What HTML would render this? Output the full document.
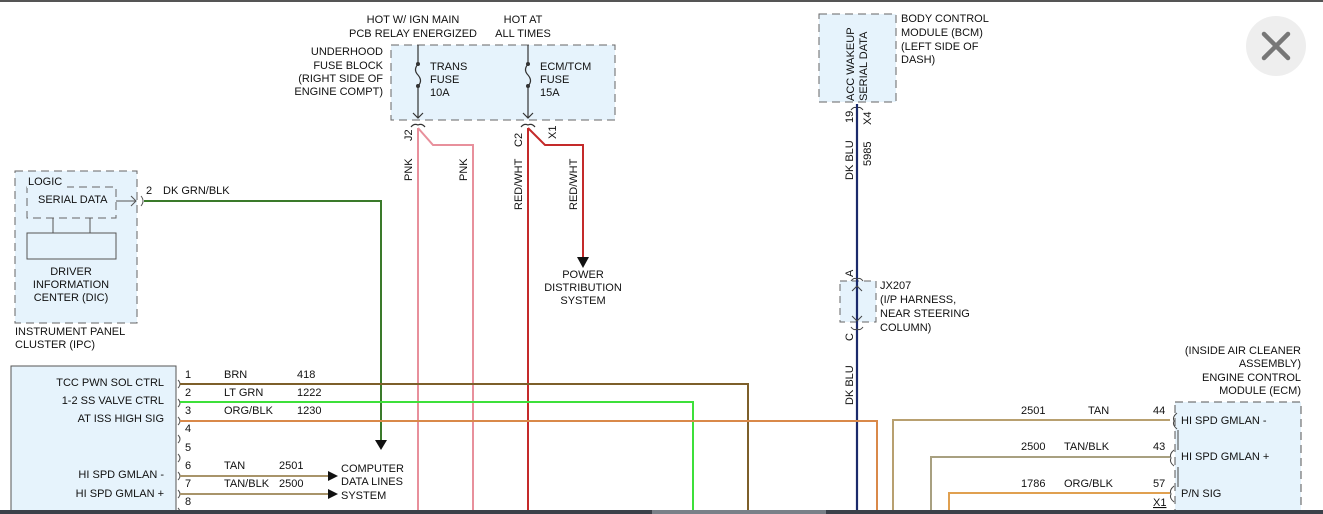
<!DOCTYPE html>
<html><head><meta charset="utf-8"><style>
html,body{margin:0;padding:0;background:#fff;width:1323px;height:514px;overflow:hidden}
svg{display:block;font-family:"Liberation Sans",Arial,sans-serif;font-size:11px}
</style></head><body>
<svg width="1323" height="514" viewBox="0 0 1323 514">
<rect x="0" y="0" width="1323" height="2" fill="#555"/>
<!-- fuse block -->
<rect x="391" y="45" width="224" height="75" fill="#e6f3fc" stroke="#666" stroke-dasharray="8,5"/>
<g fill="#111" text-anchor="middle">
<text x="413" y="23">HOT W/ IGN MAIN</text><text x="413" y="37">PCB RELAY ENERGIZED</text>
<text x="523" y="23">HOT AT</text><text x="523" y="37">ALL TIMES</text>
</g>
<g fill="#111" text-anchor="end">
<text x="383" y="55">UNDERHOOD</text><text x="383" y="69">FUSE BLOCK</text><text x="383" y="82">(RIGHT SIDE OF</text><text x="383" y="95">ENGINE COMPT)</text>
</g>
<g stroke="#333" fill="none" stroke-width="1.2">
<line x1="418" y1="45" x2="418" y2="64"/><path d="M418 64 q-5 6 0 11 q5 6 0 11"/><line x1="418" y1="86" x2="418" y2="118"/>
<line x1="528" y1="45" x2="528" y2="64"/><path d="M528 64 q-5 6 0 11 q5 6 0 11"/><line x1="528" y1="86" x2="528" y2="118"/>
<path d="M413 113 l5 5 l5 -5 M523 113 l5 5 l5 -5"/>
<path d="M411 127 q3 -4 7 -2 q4 -2 7 2 M521 127 q3 -4 7 -2 q4 -2 7 2"/>
</g>
<g fill="#333"><circle cx="418" cy="64" r="2"/><circle cx="418" cy="86" r="2"/><circle cx="528" cy="64" r="2"/><circle cx="528" cy="86" r="2"/></g>
<g fill="#111"><text x="430" y="70">TRANS</text><text x="430" y="83">FUSE</text><text x="430" y="96">10A</text>
<text x="540" y="70">ECM/TCM</text><text x="540" y="83">FUSE</text><text x="540" y="96">15A</text></g>
<!-- wires from fuse -->
<g fill="none" stroke-width="2">
<path d="M418 128 V514" stroke="#e8909c"/>
<path d="M418 128 L433 145 H473 V514" stroke="#e8909c"/>
<path d="M528 128 V514" stroke="#c42a2a"/>
<path d="M528 128 L545 145 H583 V258" stroke="#c42a2a"/>
</g>
<path d="M577 257 h12 l-6 11z" fill="#111"/>
<g fill="#111" text-anchor="middle"><text x="583" y="278">POWER</text><text x="583" y="291">DISTRIBUTION</text><text x="583" y="304">SYSTEM</text></g>
<g fill="#111">
<text transform="translate(412,141) rotate(-90)">J2</text>
<text transform="translate(412,181) rotate(-90)">PNK</text>
<text transform="translate(467,181) rotate(-90)">PNK</text>
<text transform="translate(522,147) rotate(-90)">C2</text>
<text transform="translate(522,210) rotate(-90)">RED/WHT</text>
<text transform="translate(556,139) rotate(-90)">X1</text>
<text transform="translate(577,210) rotate(-90)">RED/WHT</text>
</g>
<!-- BCM -->
<rect x="819" y="14" width="77" height="88" fill="#e6f3fc" stroke="#666" stroke-dasharray="8,5"/>
<g fill="#111"><text transform="translate(854,101) rotate(-90)">ACC WAKEUP</text><text transform="translate(867,101) rotate(-90)">SERIAL DATA</text>
<text x="901" y="22">BODY CONTROL</text><text x="901" y="36">MODULE (BCM)</text><text x="901" y="50">(LEFT SIDE OF</text><text x="901" y="63">DASH)</text>
<text transform="translate(853,123) rotate(-90)">19</text><text transform="translate(871,125) rotate(-90)">X4</text>
<text transform="translate(853,180) rotate(-90)">DK BLU</text><text transform="translate(871,166) rotate(-90)">5985</text>
<text transform="translate(853,277) rotate(-90)">A</text><text transform="translate(853,341) rotate(-90)">C</text>
<text transform="translate(853,405) rotate(-90)">DK BLU</text>
<text x="880" y="289">JX207</text><text x="880" y="303">(I/P HARNESS,</text><text x="880" y="317">NEAR STEERING</text><text x="880" y="331">COLUMN)</text>
</g>
<path d="M851 110 q3 -4 6 -2 q3 -2 6 2" stroke="#333" fill="none"/>
<rect x="840" y="281" width="36" height="41" fill="#e6f3fc" stroke="#666" stroke-dasharray="7,5"/>
<line x1="857" y1="104" x2="857" y2="514" stroke="#1b2a6b" stroke-width="2.2"/>
<path d="M851 281 q3 -4 6 -2 q3 -2 6 2 M851 327 q3 4 6 2 q3 2 6 -2 M852 291 l5 -5 l5 5 M852 316 l5 5 l5 -5" stroke="#444" fill="none"/>
<!-- close button -->
<circle cx="1276" cy="46" r="30" fill="#eeeeee"/>
<path d="M1264 34 L1288 58 M1288 34 L1264 58" stroke="#777" stroke-width="4.5" stroke-linecap="round"/>
<!-- IPC -->
<rect x="15" y="171" width="122" height="152" fill="#e6f3fc" stroke="#666" stroke-dasharray="8,5"/>
<rect x="27" y="187" width="89" height="31" fill="#e6f3fc" stroke="#666" stroke-dasharray="8,5"/>
<rect x="27" y="233" width="89" height="26" fill="#e6f3fc" stroke="#555"/>
<path d="M53 218 V233 M90 218 V233" stroke="#555"/>
<path d="M116 201 H136 M131 196 l5 5 l-5 5 M141 196 q4 5 0 10" stroke="#555" fill="none"/>
<rect x="27" y="186" width="40" height="2" fill="#e6f3fc"/>
<g fill="#111"><text x="28" y="185">LOGIC</text><text x="38" y="203">SERIAL DATA</text>
<text x="71" y="275" text-anchor="middle">DRIVER</text><text x="71" y="288" text-anchor="middle">INFORMATION</text><text x="71" y="301" text-anchor="middle">CENTER (DIC)</text>
<text x="15" y="335">INSTRUMENT PANEL</text><text x="15" y="348">CLUSTER (IPC)</text>
<text x="146" y="194">2</text><text x="163" y="194">DK GRN/BLK</text></g>
<path d="M144 201 H381 V440" stroke="#3a7a2a" stroke-width="2" fill="none"/>
<path d="M375 440 h12 l-6 10z" fill="#111"/>
<!-- left module -->
<rect x="11" y="366" width="165" height="150" fill="#e6f3fc" stroke="#555"/>
<g fill="#111" text-anchor="end"><text x="164" y="386">TCC PWN SOL CTRL</text><text x="164" y="404">1-2 SS VALVE CTRL</text><text x="164" y="422">AT ISS HIGH SIG</text>
<text x="164" y="478">HI SPD GMLAN -</text><text x="164" y="497">HI SPD GMLAN +</text></g>
<g fill="#111"><text x="185" y="378">1</text><text x="185" y="396">2</text><text x="185" y="414">3</text><text x="185" y="432">4</text><text x="185" y="451">5</text><text x="185" y="469">6</text><text x="185" y="487">7</text><text x="185" y="505">8</text>
<text x="224" y="378">BRN</text><text x="297" y="378">418</text>
<text x="224" y="396">LT GRN</text><text x="297" y="396">1222</text>
<text x="224" y="414">ORG/BLK</text><text x="297" y="414">1230</text>
<text x="224" y="469">TAN</text><text x="279" y="469">2501</text>
<text x="224" y="487">TAN/BLK</text><text x="279" y="487">2500</text>
<text x="341" y="472">COMPUTER</text><text x="341" y="485">DATA LINES</text><text x="341" y="499">SYSTEM</text></g>
<g stroke="#555" fill="none"><path d="M178 380 q4 4 0 8 M178 399 q4 4 0 8 M178 417 q4 4 0 8 M178 435 q4 4 0 8 M178 454 q4 4 0 8 M178 472 q4 4 0 8 M178 490 q4 4 0 8 M178 508 q4 4 0 8"/></g>
<g fill="none" stroke-width="2">
<path d="M180 384 H748 V514" stroke="#7d5f2a"/>
<path d="M180 402 H693 V514" stroke="#3ee03a"/>
<path d="M180 421 H877 V514" stroke="#d9894a"/>
<path d="M180 476 H328" stroke="#a8946a"/>
<path d="M180 494 H328" stroke="#a8946a"/>
<path d="M1170 420 H893 V514" stroke="#b8a070"/>
<path d="M1170 457 H931 V514" stroke="#a8a080"/>
<path d="M1170 493 H949 V514" stroke="#e0a050"/>
</g>
<path d="M328 471 l10 5 l-10 5z M328 489 l10 5 l-10 5z" fill="#111"/>
<!-- ECM -->
<rect x="1175" y="402" width="126" height="120" fill="#e6f3fc" stroke="#555" stroke-dasharray="8,5"/>
<g stroke="#444" fill="none"><path d="M1177 413 q-5 4 -3 8 q-2 4 3 8 M1174 450 q-5 4 -3 8 q-2 4 3 8 M1174 486 q-5 4 -3 8 q-2 4 3 8 M1178 430 v20 M1178 467 v20"/></g>
<g fill="#111"><text x="1301" y="354" text-anchor="end">(INSIDE AIR CLEANER</text><text x="1301" y="367" text-anchor="end">ASSEMBLY)</text><text x="1301" y="381" text-anchor="end">ENGINE CONTROL</text><text x="1301" y="394" text-anchor="end">MODULE (ECM)</text>
<text x="1181" y="424">HI SPD GMLAN -</text><text x="1181" y="460">HI SPD GMLAN +</text><text x="1181" y="497">P/N SIG</text>
<text x="1021" y="414">2501</text><text x="1088" y="414">TAN</text><text x="1153" y="414">44</text>
<text x="1021" y="450">2500</text><text x="1064" y="450">TAN/BLK</text><text x="1153" y="450">43</text>
<text x="1021" y="487">1786</text><text x="1064" y="487">ORG/BLK</text><text x="1153" y="487">57</text>
<text x="1153" y="506" text-decoration="underline">X1</text></g>
<!-- bottom bar -->
<rect x="0" y="510" width="1323" height="4" fill="#3b4049"/>
<rect x="652" y="510" width="174" height="4" fill="#7a8088"/>
</svg>
</body></html>
